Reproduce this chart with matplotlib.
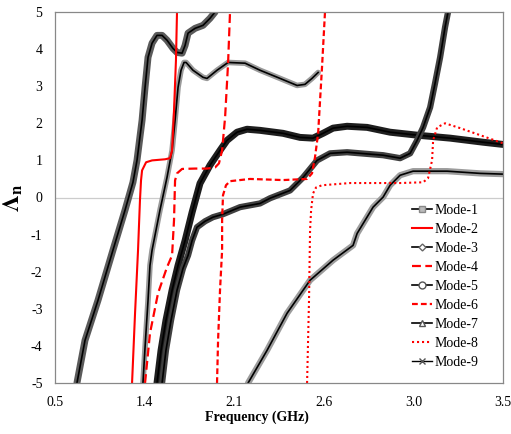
import matplotlib
matplotlib.use('Agg')
import matplotlib.pyplot as plt
from matplotlib.lines import Line2D

plt.rcParams['font.family'] = ['Liberation Serif', 'DejaVu Serif']
plt.rcParams['mathtext.fontset'] = 'stix'
plt.rcParams['axes.unicode_minus'] = False

# x axis runs 0.5 .. 3.5 in equal steps, but the printed tick labels are these
tick_pos = [0.5, 1.1, 1.7, 2.3, 2.9, 3.5]
tick_labels = ['0.5', '1.4', '2.1', '2.6', '3.0', '3.5']

# Mode-1 (squares)
m1_x = [0.647, 0.701, 0.788, 0.888, 0.969, 1.022, 1.049, 1.083, 1.103, 1.123, 1.150, 1.183,
        1.217, 1.250, 1.290, 1.317, 1.351, 1.371, 1.391, 1.438, 1.491, 1.538, 1.572]
m1_y = [-5.0, -3.85, -2.77, -1.42, -0.34, 0.41, 1.0, 2.08, 2.97, 3.78, 4.16, 4.37,
        4.37, 4.24, 4.02, 3.91, 3.89, 4.10, 4.43, 4.56, 4.64, 4.83, 5.0]

# Mode-2 (red solid)
m2_x = [1.016, 1.036, 1.056, 1.069, 1.076, 1.083, 1.110, 1.150, 1.237, 1.270, 1.284, 1.297, 1.310, 1.317]
m2_y = [-5.0, -3.12, -1.42, -0.07, 0.46, 0.73, 0.95, 1.0, 1.03, 1.06, 1.27, 2.35, 3.70, 5.0]

# Mode-3 (diamonds)
m3_x = [1.089, 1.103, 1.123, 1.136, 1.150, 1.203, 1.250, 1.284, 1.304, 1.324, 1.344, 1.364, 1.378,
        1.424, 1.491, 1.518, 1.585, 1.659, 1.773, 1.873, 2.007, 2.121, 2.174, 2.221, 2.262]
m3_y = [-5.0, -4.04, -2.77, -1.83, -1.42, -0.34, 0.54, 1.27, 2.08, 2.97, 3.43, 3.64, 3.64,
        3.43, 3.24, 3.21, 3.43, 3.64, 3.62, 3.43, 3.21, 3.02, 3.05, 3.21, 3.37]

# Mode-4 (red long dash)
m4_x = [1.103, 1.136, 1.190, 1.250, 1.284, 1.297, 1.304, 1.317, 1.351, 1.438, 1.518, 1.572,
        1.598, 1.619, 1.639, 1.659, 1.672]
m4_y = [-5.0, -3.66, -2.58, -1.88, -1.56, -0.61, 0.46, 0.65, 0.77, 0.78, 0.78, 0.81,
        0.92, 1.27, 2.16, 3.62, 5.0]

# Mode-5 (circles)
m5_x = [1.183, 1.210, 1.243, 1.284, 1.324, 1.371, 1.418, 1.471, 1.538, 1.605, 1.652, 1.719, 1.786,
        1.873, 2.027, 2.141, 2.228, 2.295, 2.362, 2.456, 2.590, 2.744, 2.925, 3.146, 3.367, 3.501]
m5_y = [-5.0, -4.12, -3.31, -2.50, -1.83, -1.16, -0.40, 0.38, 0.87, 1.27, 1.54, 1.76, 1.84,
        1.81, 1.73, 1.62, 1.60, 1.73, 1.87, 1.92, 1.89, 1.76, 1.68, 1.60, 1.49, 1.43]

# Mode-6 (red short dash)
m6_x = [1.585, 1.592, 1.605, 1.619, 1.619, 1.625, 1.645, 1.672, 1.806, 2.027, 2.188, 2.221,
        2.241, 2.262, 2.288, 2.308]
m6_y = [-5.0, -3.85, -2.50, -1.42, -0.61, 0.06, 0.33, 0.44, 0.50, 0.47, 0.50, 0.65,
        1.08, 1.73, 3.51, 5.0]

# Mode-7 (triangles)
m7_x = [1.217, 1.243, 1.277, 1.317, 1.357, 1.391, 1.418, 1.451, 1.505, 1.558, 1.625, 1.739, 1.873,
        1.940, 2.074, 2.161, 2.255, 2.342, 2.456, 2.697, 2.811, 2.878, 2.925, 2.965, 3.012, 3.045,
        3.079, 3.112, 3.132]
m7_y = [-5.0, -4.12, -3.31, -2.50, -1.91, -1.56, -1.16, -0.80, -0.64, -0.53, -0.45, -0.26, -0.16,
        -0.02, 0.19, 0.54, 1.00, 1.19, 1.22, 1.14, 1.06, 1.19, 1.54, 1.89, 2.43, 3.08,
        3.78, 4.59, 5.0]

# Mode-8 (red dotted)
m8_x = [2.188, 2.201, 2.208, 2.215, 2.228, 2.248, 2.288, 2.476, 2.811, 2.965, 2.998, 3.025,
        3.032, 3.059, 3.112, 3.213, 3.347, 3.501]
m8_y = [-5.0, -2.77, -0.88, -0.34, 0.11, 0.27, 0.33, 0.39, 0.39, 0.41, 0.52, 1.0,
        1.54, 1.89, 2.0, 1.87, 1.68, 1.46]

# Mode-9 (crosses)
m9_x = [1.793, 1.920, 2.054, 2.208, 2.362, 2.496, 2.523, 2.630, 2.697, 2.744, 2.811, 2.898,
        3.126, 3.347, 3.501]
m9_y = [-5.0, -4.12, -3.12, -2.23, -1.69, -1.29, -0.97, -0.26, 0.01, 0.33, 0.60, 0.71,
        0.71, 0.65, 0.63]

fig = plt.figure(figsize=(5.11, 4.34), dpi=100)
ax = fig.add_axes([55 / 511, 1 - 383 / 434, 448 / 511, 371 / 434])

ax.axhline(0, color='#cccccc', lw=0.9, zorder=0)


def banded(x, y, band_col, band_w):
    # the original had a marker on every sample, which reads as a thick band
    ax.plot(x, y, color=band_col, lw=band_w, solid_capstyle='round', solid_joinstyle='round')
    ax.plot(x, y, color='black', lw=1.2)


banded(m1_x, m1_y, '#5a5a5a', 5.0)
banded(m3_x, m3_y, '#9a9a9a', 4.0)
banded(m5_x, m5_y, '#1e1e1e', 5.0)
banded(m7_x, m7_y, '#404040', 4.5)
banded(m9_x, m9_y, '#9c9c9c', 4.5)

red = '#ff0000'
ax.plot(m2_x, m2_y, color=red, lw=1.5)
ax.plot(m4_x, m4_y, color=red, lw=1.6, linestyle=(0, (4, 2)), dash_capstyle='butt')
ax.plot(m6_x, m6_y, color=red, lw=1.6, linestyle=(0, (2.6, 1.4)), dash_capstyle='butt')
ax.plot(m8_x, m8_y, color=red, lw=1.5, linestyle=(0, (1, 1.4)), dash_capstyle='butt')

ax.set_xlim(0.5, 3.5)
ax.set_ylim(-5, 5)
ax.set_xticks(tick_pos)
ax.set_xticklabels(tick_labels)
ax.set_yticks(range(-5, 6))
ax.tick_params(length=0, labelsize=10)
ax.tick_params(axis='y', pad=9)
ax.tick_params(axis='x', pad=9)
for s in ax.spines.values():
    s.set_color('#888888')
    s.set_linewidth(0.9)

ax.set_xlabel('Frequency (GHz)', fontsize=10, fontweight='bold')
ax.xaxis.set_label_coords(0.451, -0.075)
ax.set_ylabel(r'$\mathbf{\Lambda}_\mathbf{n}$', fontsize=17)
ax.yaxis.set_label_coords(-0.068, 0.5)

handles = [
    Line2D([], [], color='black', lw=1.2, marker='s', ms=4, mfc='#bbbbbb', mec='#888888'),
    Line2D([], [], color=red, lw=1.5),
    Line2D([], [], color='black', lw=1.2, marker='D', ms=3.5, mfc='white', mec='#666666'),
    Line2D([], [], color=red, lw=1.6, linestyle=(0, (4, 2))),
    Line2D([], [], color='black', lw=1.2, marker='o', ms=5, mfc='white', mec='#555555'),
    Line2D([], [], color=red, lw=1.6, linestyle=(0, (2.6, 1.4))),
    Line2D([], [], color='black', lw=1.2, marker='^', ms=4.5, mfc='white', mec='#555555'),
    Line2D([], [], color=red, lw=1.5, linestyle=(0, (1, 1.4))),
    Line2D([], [], color='black', lw=1.0, marker='x', ms=4, mec='#555555'),
]
labels = ['Mode-1', 'Mode-2', 'Mode-3', 'Mode-4', 'Mode-5', 'Mode-6', 'Mode-7', 'Mode-8', 'Mode-9']
ax.legend(handles, labels, loc='upper left', bbox_to_anchor=(0.797, 0.482), frameon=False,
          fontsize=10, borderpad=0, borderaxespad=0, handlelength=1.45, handletextpad=0.15,
          labelspacing=0.43)

fig.savefig('out.png', dpi=100)
